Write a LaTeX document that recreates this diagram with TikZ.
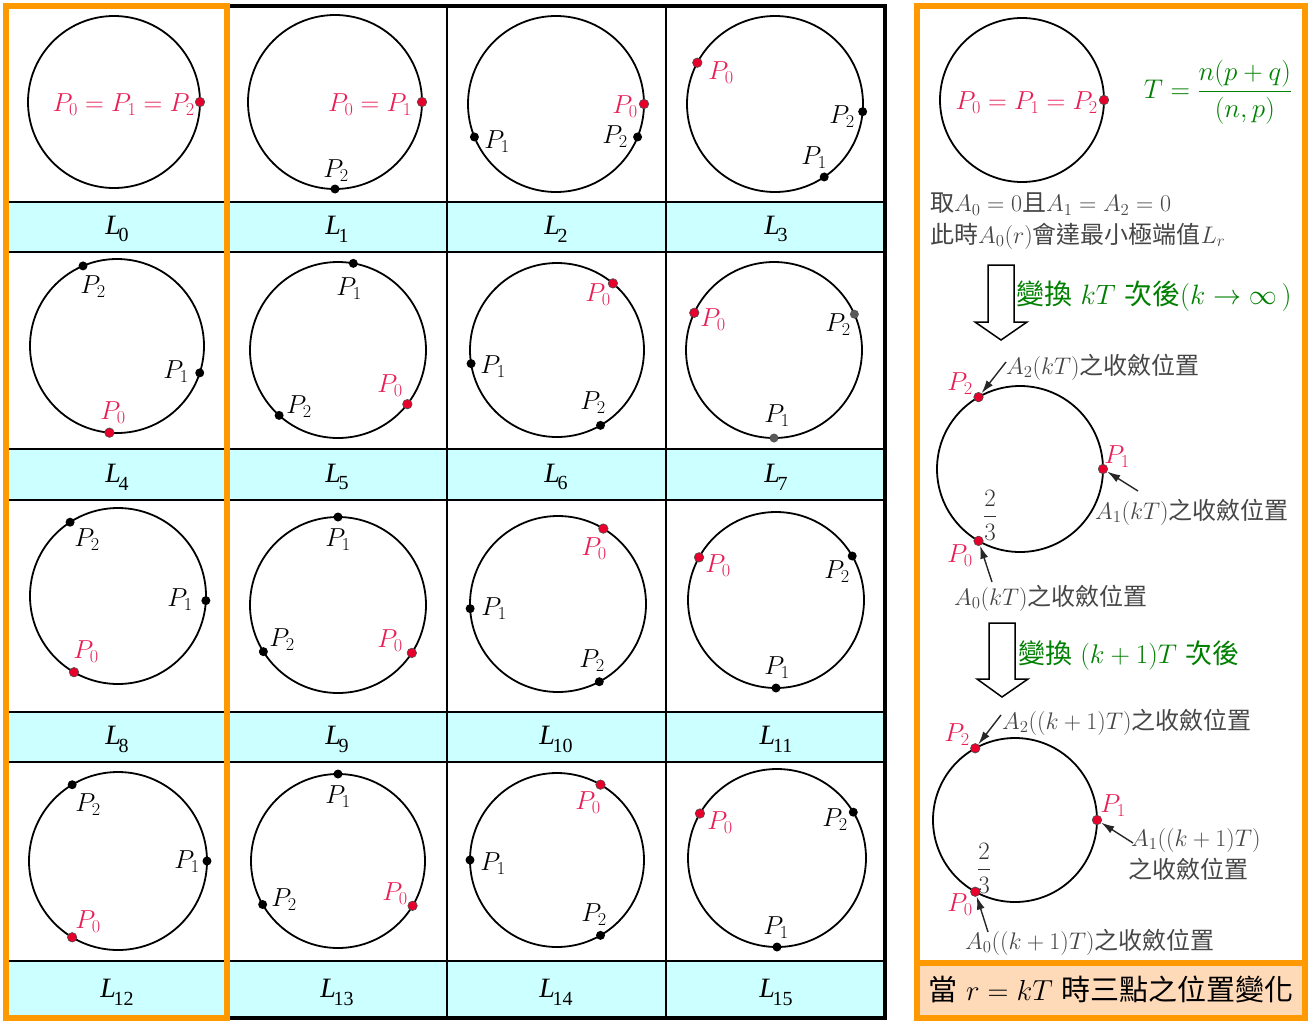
\RequirePackage{fix-cm}
\documentclass[tikz,border=0pt]{standalone}
\usepackage{amsmath}
\usepackage{fontspec}
\newfontfamily\cjk{Noto Sans CJK TC}
\newfontfamily\tms{Liberation Serif}
\usetikzlibrary{arrows.meta}
\definecolor{orng}{RGB}{255,153,0}
\definecolor{band}{RGB}{204,255,255}
\definecolor{peach}{RGB}{255,218,185}
\definecolor{labred}{RGB}{232,30,85}
\definecolor{dotred}{RGB}{232,0,45}
\definecolor{grn}{RGB}{0,128,0}
\definecolor{txtgray}{RGB}{70,70,70}
\newcommand\Lb[1]{{\tms\itshape L}\kern-0.08em\raisebox{-0.28em}{\tms\fontsize{20}{20}\selectfont #1}}
\begin{document}
\begin{tikzpicture}[x=1pt,y=-1pt,
  ring/.style={draw, circle, line width=1.8pt, inner sep=0pt, outer sep=0pt, minimum size=#1},
  rdot/.style={circle, fill=dotred, draw=black!70, line width=0.6pt, inner sep=0pt, minimum size=9.5pt},
  bdot/.style={circle, fill=black, inner sep=0pt, minimum size=9pt},
  gdot/.style={circle, fill=black!65, inner sep=0pt, minimum size=9pt},
  plab/.style={inner sep=0pt, font=\fontsize{26}{26}\selectfont},
  rlab/.style={plab, text=labred},
  cell/.style={inner sep=0pt, font=\fontsize{28}{28}\selectfont},
  note/.style={inner sep=0pt, text=txtgray, font=\fontsize{24}{27}\selectfont, anchor=west},
  frc/.style={inner sep=0pt, text=black!80, font=\fontsize{25}{25}\selectfont},
  head/.style={inner sep=0pt, text=grn, font=\fontsize{28}{28}\selectfont, anchor=west},
  ptr/.style={-{Latex[length=13pt,width=8pt]}, line width=1.4pt, black!85},
  hollow/.style={draw, fill=white, line width=1.5pt, line join=miter}
]
\fill[white] (0,0) rectangle (1310,1021);
\useasboundingbox (0,0) rectangle (1310,1021);
% ---------- grid ----------
\foreach \ya/\yb in {202/252,449/500,712/762,961/1018}
  \fill[band] (8,\ya) rectangle (885,\yb);
\foreach \y in {202,252,449,500,712,762,961}
  \draw[line width=2pt] (8,\y) -- (885,\y);
\foreach \x in {447,666}
  \draw[line width=2pt] (\x,6) -- (\x,1018);
\draw[line width=4pt] (227,6) rectangle (885,1018);
\draw[orng, line width=6pt] (6,6) rectangle (227,1018);
% ---------- right panel frame ----------
\fill[peach] (917,963) rectangle (1305,1018);
\draw[orng, line width=6pt] (917,6) rectangle (1305,1018);
\draw[orng, line width=6pt] (917,963) -- (1305,963);

% ---------- L0 ----------
\node[ring=172] (c0) at (114,102) {};
\node[rdot] (c0a) at (c0.0) {};
\node[rlab, anchor=east] (c0t) at (195,105) {$P_0=P_1=P_2$};
% ---------- L1 ----------
\node[ring=174] (c1) at (335,102) {};
\node[rdot] (c1a) at (c1.0) {};
\node[bdot] (c1c) at (c1.-90) {};
\node[rlab, anchor=east] (c1ta) at (412,105) {$P_0=P_1$};
\node[plab] (c1tc) at (336,171) {$P_2$};
% ---------- L2 ----------
\node[ring=176] (c2) at (556,104) {};
\node[rdot] (c2a) at (c2.0) {};
\node[bdot] (c2b) at (c2.-158) {};
\node[bdot] (c2c) at (c2.-22) {};
\node[rlab] (c2ta) at (625,107) {$P_0$};
\node[plab] (c2tb) at (497,142) {$P_1$};
\node[plab] (c2tc) at (615,137) {$P_2$};
% ---------- L3 ----------
\node[ring=176] (c3) at (775,104) {};
\node[rdot] (c3a) at (c3.152) {};
\node[bdot] (c3c) at (c3.-5) {};
\node[bdot] (c3b) at (c3.-56) {};
\node[rlab] (c3ta) at (721,73) {$P_0$};
\node[plab] (c3tc) at (842,117) {$P_2$};
\node[plab] (c3tb) at (814,158) {$P_1$};
% ---------- L4 ----------
\node[ring=174] (c4) at (117,346) {};
\node[bdot] (c4c) at (c4.113) {};
\node[bdot] (c4b) at (c4.-18) {};
\node[rdot] (c4a) at (c4.-95) {};
\node[plab] (c4tc) at (93,287) {$P_2$};
\node[plab] (c4tb) at (176,372) {$P_1$};
\node[rlab] (c4ta) at (113,413) {$P_0$};
% ---------- L5 ----------
\node[ring=176] (c5) at (338,350) {};
\node[bdot] (c5b) at (c5.80) {};
\node[bdot] (c5c) at (c5.-132) {};
\node[rdot] (c5a) at (c5.-38) {};
\node[plab] (c5tb) at (349,289) {$P_1$};
\node[plab] (c5tc) at (299,407) {$P_2$};
\node[rlab] (c5ta) at (390,386) {$P_0$};
% ---------- L6 ----------
\node[ring=174] (c6) at (557,350) {};
\node[rdot] (c6a) at (c6.50) {};
\node[bdot] (c6b) at (c6.-171) {};
\node[bdot] (c6c) at (c6.-60) {};
\node[rlab] (c6ta) at (598,295) {$P_0$};
\node[plab] (c6tb) at (493,367) {$P_1$};
\node[plab] (c6tc) at (593,403) {$P_2$};
% ---------- L7 ----------
\node[ring=176] (c7) at (774,350) {};
\node[rdot] (c7a) at (c7.155) {};
\node[gdot] (c7c) at (c7.24) {};
\node[gdot] (c7b) at (c7.-90) {};
\node[rlab] (c7ta) at (713,320) {$P_0$};
\node[plab] (c7tc) at (838,325) {$P_2$};
\node[plab] (c7tb) at (777,416) {$P_1$};
% ---------- L8 ----------
\node[ring=176] (c8) at (118,596) {};
\node[bdot] (c8c) at (c8.123) {};
\node[bdot] (c8b) at (c8.-3) {};
\node[rdot] (c8a) at (c8.-120) {};
\node[plab] (c8tc) at (87,540) {$P_2$};
\node[plab] (c8tb) at (180,600) {$P_1$};
\node[rlab] (c8ta) at (86,652) {$P_0$};
% ---------- L9 ----------
\node[ring=176] (c9) at (338,605) {};
\node[bdot] (c9b) at (c9.90) {};
\node[bdot] (c9c) at (c9.-148) {};
\node[rdot] (c9a) at (c9.-33) {};
\node[plab] (c9tb) at (338,540) {$P_1$};
\node[plab] (c9tc) at (282,640) {$P_2$};
\node[rlab] (c9ta) at (390,641) {$P_0$};
% ---------- L10 ----------
\node[ring=176] (c10) at (558,604) {};
\node[rdot] (c10a) at (c10.59) {};
\node[bdot] (c10b) at (c10.-177) {};
\node[bdot] (c10c) at (c10.-62) {};
\node[rlab] (c10ta) at (594,549) {$P_0$};
\node[plab] (c10tb) at (494,609) {$P_1$};
\node[plab] (c10tc) at (592,661) {$P_2$};
% ---------- L11 ----------
\node[ring=176] (c11) at (776,600) {};
\node[rdot] (c11a) at (c11.151) {};
\node[bdot] (c11c) at (c11.30) {};
\node[bdot] (c11b) at (c11.-90) {};
\node[rlab] (c11ta) at (718,566) {$P_0$};
\node[plab] (c11tc) at (837,572) {$P_2$};
\node[plab] (c11tb) at (777,668) {$P_1$};
% ---------- L12 ----------
\node[ring=178] (c12) at (118,861) {};
\node[bdot] (c12c) at (c12.121) {};
\node[bdot] (c12b) at (c12.0) {};
\node[rdot] (c12a) at (c12.-121) {};
\node[plab] (c12tc) at (88,805) {$P_2$};
\node[plab] (c12tb) at (187,862) {$P_1$};
\node[rlab] (c12ta) at (88,922) {$P_0$};
% ---------- L13 ----------
\node[ring=174] (c13) at (338,861) {};
\node[bdot] (c13b) at (c13.90) {};
\node[bdot] (c13c) at (c13.-150) {};
\node[rdot] (c13a) at (c13.-31) {};
\node[plab] (c13tb) at (338,797) {$P_1$};
\node[plab] (c13tc) at (284,900) {$P_2$};
\node[rlab] (c13ta) at (395,894) {$P_0$};
% ---------- L14 ----------
\node[ring=174] (c14) at (557,860) {};
\node[rdot] (c14a) at (c14.60) {};
\node[bdot] (c14b) at (c14.180) {};
\node[bdot] (c14c) at (c14.-60) {};
\node[rlab] (c14ta) at (588,803) {$P_0$};
\node[plab] (c14tb) at (493,864) {$P_1$};
\node[plab] (c14tc) at (594,915) {$P_2$};
% ---------- L15 ----------
\node[ring=178] (c15) at (777,858) {};
\node[rdot] (c15a) at (c15.150) {};
\node[bdot] (c15c) at (c15.31) {};
\node[bdot] (c15b) at (c15.-90) {};
\node[rlab] (c15ta) at (720,823) {$P_0$};
\node[plab] (c15tc) at (835,820) {$P_2$};
\node[plab] (c15tb) at (776,928) {$P_1$};

% ---------- band labels ----------
\node[cell] (l0) at (117,229) {\Lb{0}};
\node[cell] (l1) at (337,229) {\Lb{1}};
\node[cell] (l2) at (556,229) {\Lb{2}};
\node[cell] (l3) at (776,229) {\Lb{3}};
\node[cell] (l4) at (117,477) {\Lb{4}};
\node[cell] (l5) at (337,477) {\Lb{5}};
\node[cell] (l6) at (556,477) {\Lb{6}};
\node[cell] (l7) at (776,477) {\Lb{7}};
\node[cell] (l8) at (117,739) {\Lb{8}};
\node[cell] (l9) at (337,739) {\Lb{9}};
\node[cell] (l10) at (556,739) {\Lb{10}};
\node[cell] (l11) at (776,739) {\Lb{11}};
\node[cell] (l12) at (117,992) {\Lb{12}};
\node[cell] (l13) at (337,992) {\Lb{13}};
\node[cell] (l14) at (556,992) {\Lb{14}};
\node[cell] (l15) at (776,992) {\Lb{15}};

% ---------- right panel: top ----------
\node[ring=164] (r1) at (1022,100) {};
\node[rdot] (r1a) at (r1.0) {};
\node[rlab, anchor=east] (r1t) at (1098,103) {$P_0=P_1=P_2$};
\node[inner sep=0pt, text=grn, font=\fontsize{27}{27}\selectfont] (tf) at (1218,92) {$T=\dfrac{n(p+q)}{(n,p)}$};
\node[note] (t1) at (930,204) {{\cjk 取}$A_0=0${\cjk 且}$A_1=A_2=0$};
\node[note] (t2) at (930,236) {{\cjk 此時}$A_0(r)${\cjk 會達最小極端值}$L_r$};
\path[hollow] (988,265) -- (1014,265) -- (1014,322) -- (1027,322) -- (1001,340) -- (975,322) -- (988,322) -- cycle;
\node[head] (g1) at (1016,296) {{\cjk 變換} $kT$ {\cjk 次後}$(k\to\infty\,)$};

% ---------- right panel: middle ----------
\node[ring=166] (r2) at (1020,469) {};
\node[rdot] (r2c) at (r2.120) {};
\node[rdot] (r2b) at (r2.0) {};
\node[rdot] (r2a) at (r2.-120) {};
\node[rlab] (r2tc) at (960,384) {$P_2$};
\node[rlab] (r2tb) at (1117,457) {$P_1$};
\node[rlab] (r2ta) at (960,556) {$P_0$};
\coordinate (a2s) at (1006,362);
\coordinate (a1s) at (1138,491);
\coordinate (a0s) at (992,582);
\draw[ptr] (a2s) -- (r2c);
\draw[ptr] (a1s) -- (r2b);
\draw[ptr] (a0s) -- (r2a);
\node[note] (n2) at (1006,367) {$A_2(kT)${\cjk 之收斂位置}};
\node[note] (n1) at (1095,512) {$A_1(kT)${\cjk 之收斂位置}};
\node[note] (n0) at (954,598) {$A_0(kT)${\cjk 之收斂位置}};
\node[frc] (f1) at (990,515) {$\dfrac{2}{3}$};
\path[hollow] (989,623) -- (1015,623) -- (1015,679) -- (1028,679) -- (1002,697) -- (977,679) -- (989,679) -- cycle;
\node[head, font=\fontsize{27}{27}\selectfont] (g2) at (1018,655) {{\cjk 變換} $(k+1)T$ {\cjk 次後}};

% ---------- right panel: bottom ----------
\node[ring=164] (r3) at (1015,820) {};
\node[rdot] (r3c) at (r3.119) {};
\node[rdot] (r3b) at (r3.0) {};
\node[rdot] (r3a) at (r3.-119) {};
\node[rlab] (r3tc) at (957,735) {$P_2$};
\node[rlab] (r3tb) at (1113,806) {$P_1$};
\node[rlab] (r3ta) at (960,905) {$P_0$};
\coordinate (b2s) at (1001,715);
\coordinate (b1s) at (1133,843);
\coordinate (b0s) at (988,932);
\draw[ptr] (b2s) -- (r3c);
\draw[ptr] (b1s) -- (r3b);
\draw[ptr] (b0s) -- (r3a);
\node[note] (m2) at (1002,722) {$A_2((k+1)T)${\cjk 之收斂位置}};
\node[note] (m1) at (1131,840) {$A_1((k+1)T)$};
\node[note] (m1b) at (1128,869) {\cjk 之收斂位置};
\node[note] (m0) at (965,942) {$A_0((k+1)T)${\cjk 之收斂位置}};
\node[frc] (f2) at (984,868) {$\dfrac{2}{3}$};

\node[inner sep=0pt, font=\fontsize{29}{29}\selectfont] (cap) at (1111,989) {{\cjk 當} $r=kT$ {\cjk 時三點之位置變化}};
\end{tikzpicture}
\end{document}
